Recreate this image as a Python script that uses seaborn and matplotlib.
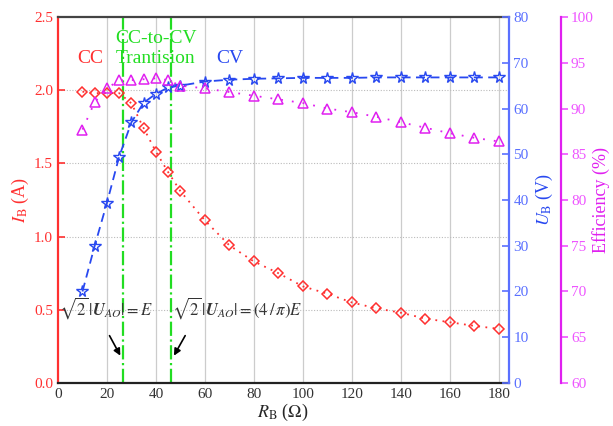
import pandas as pd
import matplotlib.pyplot as plt
import seaborn as sns

# Data
r_b = [10, 15, 20, 25, 30, 35, 40, 45, 50, 60, 70, 80, 90, 100, 110, 120, 130, 140, 150, 160, 170, 180]
i_b = [1.99, 1.98, 1.98, 1.98, 1.91, 1.74, 1.58, 1.44, 1.31, 1.11, 0.94, 0.83, 0.75, 0.66, 0.61,
       0.55, 0.51, 0.48, 0.44, 0.415, 0.39, 0.37]
u_b = [20.0, 30.0, 39.4, 49.5, 57.0, 61.3, 63.2, 64.6, 65.0, 65.9, 66.3, 66.5, 66.6, 66.7, 66.7,
       66.7, 66.8, 66.8, 66.8, 66.8, 66.8, 66.8]
eff = [87.7, 90.7, 92.2, 93.1, 93.1, 93.2, 93.3, 93.1, 92.5, 92.2, 91.8, 91.4, 91.0, 90.6, 90.0,
       89.6, 89.1, 88.5, 87.9, 87.3, 86.8, 86.4]
boundaries = [26.7, 46.0]

df = pd.DataFrame({"R": r_b, "I": i_b, "U": u_b, "Eff": eff})

sns.set_style("white")
plt.rcParams["font.family"] = ["Liberation Serif", "DejaVu Serif"]
plt.rcParams["mathtext.fontset"] = "stix"

red = "#ff3030"
blue = "#2848f0"
mag = "#e020f0"

fig = plt.figure(figsize=(6.13, 4.26), dpi=100)
ax = fig.add_axes([0.0946, 0.101, 0.735, 0.859])
ax2 = ax.twinx()
ax3 = ax.twinx()
ax3.spines["right"].set_position(("axes", 1.117))

# =========================
# Grid
# =========================
for x in range(20, 181, 20):
    ax.axvline(x, color="#cccccc", lw=0.9, zorder=0)
for y in [0.5, 1.0, 1.5, 2.0]:
    ax.axhline(y, color="#bbbbbb", lw=0.8, ls=(0, (1, 1.5)), zorder=0)

# =========================
# Series
# =========================
sns.lineplot(data=df, x="R", y="I", ax=ax, color=red, lw=1.3, linestyle=(0, (1, 3)),
             marker="D", markersize=5.5, markerfacecolor="none", markeredgecolor=red,
             markeredgewidth=1.1, zorder=3)
sns.lineplot(data=df, x="R", y="U", ax=ax2, color=blue, lw=1.3, linestyle=(0, (5, 3)),
             marker="*", markersize=8.5, markerfacecolor="none", markeredgecolor=blue,
             markeredgewidth=1.0, zorder=3)
sns.lineplot(data=df, x="R", y="Eff", ax=ax3, color=mag, lw=1.3, linestyle=(0, (1, 5)),
             marker="^", markersize=6.5, markerfacecolor="none", markeredgecolor=mag,
             markeredgewidth=1.1, zorder=3)

for b in boundaries:
    ax.axvline(b, color="#22dd22", lw=1.6, ls="-.", zorder=2)

# =========================
# Axes
# =========================
ax.set_xlim(0, 184)
ax.set_ylim(0, 2.5)
ax2.set_ylim(0, 80)
ax3.set_ylim(60, 100)
ax.set_xticks(range(0, 181, 20))
ax.set_yticks([0.0, 0.5, 1.0, 1.5, 2.0, 2.5])
ax.set_yticklabels(["0.0", "0.5", "1.0", "1.5", "2.0", "2.5"])
ax2.set_yticks(range(0, 81, 10))
ax3.set_yticks(range(60, 101, 5))

ax.set_xlabel(r"$R_\mathrm{B}$ ($\Omega$)", fontsize=13, labelpad=1)
ax.set_ylabel(r"$I_\mathrm{B}$ (A)", fontsize=13, color=red, labelpad=2)
ax2.set_ylabel(r"$U_\mathrm{B}$ (V)", fontsize=13, color=blue, labelpad=4)
ax3.set_ylabel("Efficiency (%)", fontsize=13, color=mag, labelpad=-1)

ax.tick_params(axis="x", direction="in", length=5, width=1.2, labelsize=11, colors="#333333")
ax.tick_params(axis="y", direction="in", length=5, width=1.2, labelsize=11, colors=red)
ax2.tick_params(axis="y", direction="in", length=5, width=1.2, labelsize=11, colors="#5a70ff")
ax3.tick_params(axis="y", direction="out", length=5, width=1.2, labelsize=11, pad=2,
                colors="#ee55ff")

for a in (ax, ax2, ax3):
    for s in a.spines.values():
        s.set_visible(False)
ax.spines["left"].set_visible(True)
ax.spines["left"].set_color(red)
ax.spines["left"].set_linewidth(1.6)
ax.spines["bottom"].set_visible(True)
ax.spines["bottom"].set_color("#222222")
ax.spines["bottom"].set_linewidth(1.6)
ax.spines["top"].set_visible(True)
ax.spines["top"].set_color("#444444")
ax.spines["top"].set_linewidth(1.6)
ax2.spines["right"].set_visible(True)
ax2.spines["right"].set_color("#5a70ff")
ax2.spines["right"].set_linewidth(1.6)
ax3.spines["right"].set_visible(True)
ax3.spines["right"].set_color(mag)
ax3.spines["right"].set_linewidth(1.6)

# =========================
# Annotations
# =========================
ax.text(13, 2.16, "CC", color=red, fontsize=14, ha="center", va="bottom")
ax.text(40, 2.16, "CC-to-CV\nTrantision", color="#22dd22", fontsize=14, ha="center",
        va="bottom", linespacing=1.2)
ax.text(70, 2.16, "CV", color=blue, fontsize=14, ha="center", va="bottom")

ax.text(0.5, 0.42, r"$\sqrt{2}\,|\boldsymbol{U}_{AO}|=E$", fontsize=12, color="#333333",
        ha="left", va="bottom")
ax.text(46.5, 0.42, r"$\sqrt{2}\,|\boldsymbol{U}_{AO}|=(4\,/\,\pi)E$", fontsize=12,
        color="#333333", ha="left", va="bottom")
ax.annotate("", xy=(26.0, 0.17), xytext=(20.5, 0.34),
            arrowprops=dict(arrowstyle="-|>", color="black", lw=1.2, mutation_scale=10))
ax.annotate("", xy=(46.8, 0.17), xytext=(52.5, 0.34),
            arrowprops=dict(arrowstyle="-|>", color="black", lw=1.2, mutation_scale=10))

plt.savefig("out.png", dpi=100)
